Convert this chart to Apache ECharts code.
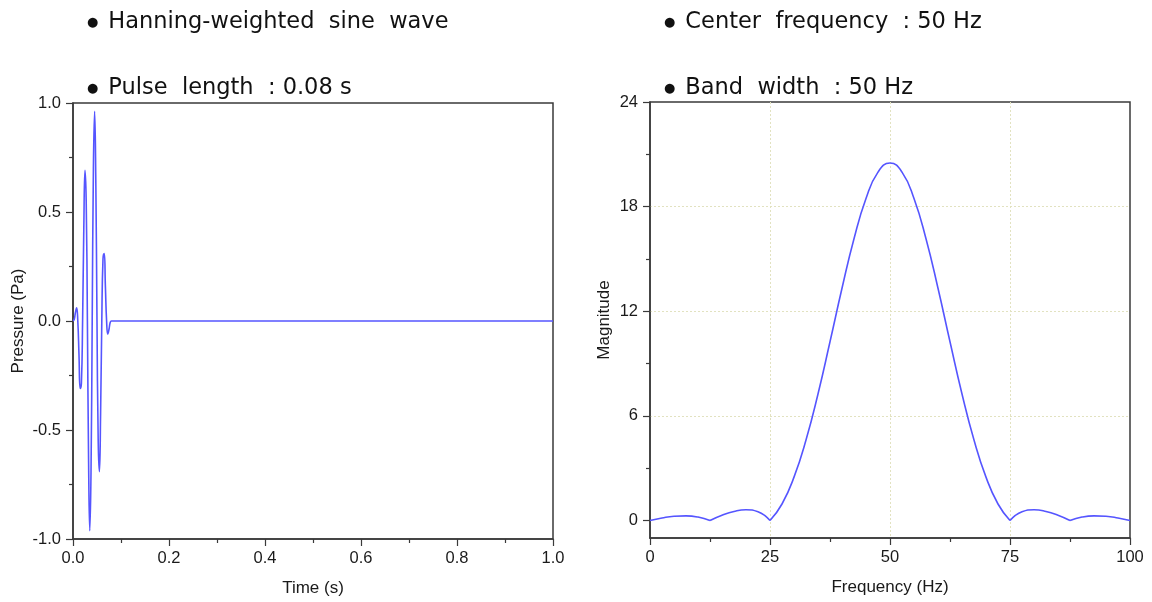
<!DOCTYPE html>
<html>
<head>
<meta charset="utf-8">
<script src="https://cdn.jsdelivr.net/npm/echarts@6/dist/echarts.min.js"></script>
<style>
html,body{margin:0;padding:0;background:#fff;}
#chart{width:1152px;height:602px;}
</style>
</head>
<body>
<div id="chart"></div>
<script>
// ---- Data ----
var timeS = [0, 0.0025, 0.005, 0.0075, 0.01, 0.0125, 0.015, 0.0175, 0.02, 0.0225,
  0.025, 0.0275, 0.03, 0.0325, 0.035, 0.0375, 0.04, 0.0425, 0.045, 0.0475,
  0.05, 0.0525, 0.055, 0.0575, 0.06, 0.0625, 0.065, 0.0675, 0.07, 0.0725,
  0.075, 0.0775, 0.08, 1.0];
var pressurePa = [0, 0.007, 0.038, 0.060, 0, -0.157, -0.309, -0.285, 0, 0.422,
  0.691, 0.550, 0, -0.647, -0.962, -0.700, 0, 0.700, 0.962, 0.647,
  0, -0.550, -0.691, -0.422, 0, 0.285, 0.309, 0.157, 0, -0.060,
  -0.038, -0.007, 0, 0];

var freqHz = [0, 2.5, 5, 7.5, 10, 12.5, 15, 17.5, 20, 22.5,
  25, 27.5, 30, 32.5, 35, 37.5, 40, 42.5, 45, 47.5,
  50, 52.5, 55, 57.5, 60, 62.5, 65, 67.5, 70, 72.5,
  75, 77.5, 80, 82.5, 85, 87.5, 90, 92.5, 95, 97.5, 100];
var magnitude = [0, 0.15, 0.25, 0.27, 0.2, 0, 0.3, 0.52, 0.62, 0.5,
  0, 0.95, 2.49, 4.62, 7.26, 10.25, 13.32, 16.16, 18.47, 19.98,
  20.5, 19.98, 18.47, 16.16, 13.32, 10.25, 7.26, 4.62, 2.49, 0.95,
  0, 0.5, 0.62, 0.52, 0.3, 0, 0.2, 0.27, 0.25, 0.15, 0];

var magTicks = [0, 6, 12, 18, 24];
var magMinorTicks = [3, 9, 15, 21];

var titleLeft1 = 'Hanning-weighted  sine  wave';
var titleLeft2 = 'Pulse  length  : 0.08 s';
var titleRight1 = 'Center  frequency  : 50 Hz';
var titleRight2 = 'Band  width  : 50 Hz';

// ---- Build ----
var lineColor = '#5555ff';
var axisColor = '#3a3a3a';
var labelFont = 'Liberation Sans';
var gridLineStyle = {color: '#e2e2c0', type: [2, 2], width: 1};

var wavePairs = timeS.map(function (t, i) { return [t, pressurePa[i]]; });

// split the spectrum into lobes at its zeros (sharp cusps)
var lobes = [];
var cur = [];
freqHz.forEach(function (f, i) {
  cur.push([f, magnitude[i]]);
  if (magnitude[i] === 0 && i > 0 && i < freqHz.length - 1) {
    lobes.push(cur);
    cur = [[f, magnitude[i]]];
  }
});
lobes.push(cur);

function bulletTitle(text, left, top) {
  return {
    text: '{b|●}  {t|' + text + '}',
    left: left, top: top,
    textStyle: {
      rich: {
        b: {fontSize: 13, color: '#111', fontFamily: 'DejaVu Sans', verticalAlign: 'middle'},
        t: {fontSize: 22.5, color: '#111', fontFamily: 'DejaVu Sans', fontWeight: 'normal'}
      }
    }
  };
}

var tickLabelStyle = {color: '#1a1a1a', fontSize: 16.5, fontFamily: labelFont};
var nameStyle = {color: '#1a1a1a', fontSize: 17, fontFamily: labelFont};

var option = {
  animation: false,
  backgroundColor: '#fff',
  title: [
    bulletTitle(titleLeft1, 82, 6),
    bulletTitle(titleLeft2, 82, 72),
    bulletTitle(titleRight1, 659, 6),
    bulletTitle(titleRight2, 659, 72)
  ],
  grid: [
    {left: 73, top: 103, width: 480, height: 436, show: true, borderColor: axisColor, borderWidth: 1.5, backgroundColor: 'transparent'},
    {left: 650, top: 102, width: 480, height: 436, show: true, borderColor: axisColor, borderWidth: 1.5, backgroundColor: 'transparent'}
  ],
  xAxis: [
    {
      gridIndex: 0, type: 'value', min: 0, max: 1, interval: 0.2,
      name: 'Time (s)', nameLocation: 'middle', nameGap: 41, nameTextStyle: nameStyle,
      axisLine: {show: true, onZero: false, lineStyle: {color: axisColor, width: 1.5}},
      axisTick: {show: true, length: 7, lineStyle: {color: axisColor, width: 1.2}},
      minorTick: {show: true, splitNumber: 2, length: 4, lineStyle: {color: axisColor, width: 1.2}},
      axisLabel: Object.assign({margin: 11, formatter: function (v) { return v.toFixed(1); }}, tickLabelStyle),
      splitLine: {show: false}
    },
    {
      gridIndex: 1, type: 'value', min: 0, max: 100, interval: 25,
      name: 'Frequency (Hz)', nameLocation: 'middle', nameGap: 41, nameTextStyle: nameStyle,
      axisLine: {show: true, onZero: false, lineStyle: {color: axisColor, width: 1.5}},
      axisTick: {show: true, length: 7, lineStyle: {color: axisColor, width: 1.2}},
      minorTick: {show: true, splitNumber: 2, length: 4, lineStyle: {color: axisColor, width: 1.2}},
      axisLabel: Object.assign({margin: 11}, tickLabelStyle),
      splitLine: {show: true, showMinLine: false, showMaxLine: false, lineStyle: gridLineStyle}
    }
  ],
  yAxis: [
    {
      gridIndex: 0, type: 'value', min: -1, max: 1, interval: 0.5,
      name: 'Pressure (Pa)', nameLocation: 'middle', nameGap: 46, nameTextStyle: nameStyle,
      axisLine: {show: true, onZero: false, lineStyle: {color: axisColor, width: 1.5}},
      axisTick: {show: true, length: 7, lineStyle: {color: axisColor, width: 1.2}},
      minorTick: {show: true, splitNumber: 2, length: 4, lineStyle: {color: axisColor, width: 1.2}},
      axisLabel: Object.assign({margin: 12, formatter: function (v) { return v.toFixed(1); }}, tickLabelStyle),
      splitLine: {show: false}
    },
    {
      gridIndex: 1, type: 'value', min: -1, max: 24, position: 'left',
      name: 'Magnitude', nameLocation: 'middle', nameGap: 37, nameTextStyle: nameStyle,
      axisLine: {show: true, onZero: false, lineStyle: {color: axisColor, width: 1.5}},
      axisTick: {show: true, length: 7, customValues: magTicks, lineStyle: {color: axisColor, width: 1.2}},
      axisLabel: Object.assign({margin: 12, customValues: magTicks}, tickLabelStyle),
      splitLine: {show: true, showMinLine: false, showMaxLine: false, lineStyle: gridLineStyle}
    },
    {
      gridIndex: 1, type: 'value', min: -1, max: 24, position: 'left',
      axisLine: {show: false},
      axisTick: {show: true, length: 4, customValues: magMinorTicks, lineStyle: {color: axisColor, width: 1.2}},
      axisLabel: {show: false, customValues: magMinorTicks},
      splitLine: {show: false}
    }
  ],
  series: [
    {
      type: 'line', xAxisIndex: 0, yAxisIndex: 0, data: wavePairs,
      smooth: 0.5, symbol: 'none', lineStyle: {color: lineColor, width: 1.6}, z: 5
    }
  ].concat(lobes.map(function (lobe) {
    return {
      type: 'line', xAxisIndex: 1, yAxisIndex: 1, data: lobe,
      smooth: 0.5, symbol: 'none', lineStyle: {color: lineColor, width: 1.6}, z: 5
    };
  }))
};

var chart = echarts.init(document.getElementById('chart'), null, {renderer: 'canvas'});
chart.setOption(option);
</script>
</body>
</html>
